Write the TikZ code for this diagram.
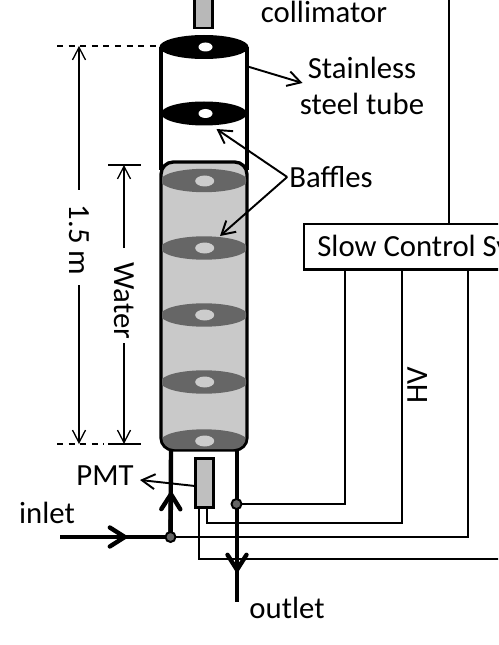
\documentclass[tikz,border=0pt]{standalone}
\usepackage{fontspec}
\setmainfont{Carlito}
\usetikzlibrary{arrows.meta, calc}

\begin{document}
\begin{tikzpicture}[
    x=0.02cm, y=-0.02cm,
    lbl/.style ={font=\fontsize{17.5}{20}\selectfont, inner sep=0pt},
    wall/.style={line width=1.9pt, black},
    wire/.style={line width=1.3pt, black},
    pipe/.style={line width=2.5pt, black},
    dim/.style ={line width=0.75pt, black, >={Straight Barb[length=2.5mm,width=2.6mm]}},
    pointer/.style={->, line width=1.1pt, >={Straight Barb[length=2.6mm,width=3mm]}},
    flow/.style={->, pipe, >={Straight Barb[length=3mm,width=3.8mm,round]}},
    joint/.style={circle, draw=black, line width=1.1pt, fill=black!60, inner sep=0pt, minimum size=5.7pt},
]
\useasboundingbox (0,0) rectangle (498,645);
\clip (0,0) rectangle (498,645);
% water volume
\draw[wall, fill=black!21, rounded corners=7pt] (161,162) rectangle (247,450);
% baffles in water
\begin{scope}
\clip[rounded corners=7pt] (162,163) rectangle (246,449);
\foreach \y in {180.5,248,315,382,441}{
  \fill[black!60] (204,\y) ellipse (43.5 and 11.7);
}
\fill[black!60] (160,442) rectangle (248,452);
\foreach \y in {181,248,315,382,441}{
  \fill[black!20] (204.7,\y) ellipse (9.5 and 5.5);
}
\end{scope}
% tube
\draw[wall] (161,47) -- (161,170);
\draw[wall] (247,47) -- (247,170);
\foreach \y/\rx in {47/44.5,113.5/43}{
  \fill[black] (204,\y) ellipse ({\rx} and 12);
  \fill[white] (205.5,\y) ellipse (7 and 4.5);
}
% collimator
\node[draw, line width=1.4pt, fill=black!28, inner sep=0pt, minimum width=0.36cm, minimum height=0.6cm] (coll) at (203.5,13) {};
% slow control box
\node[draw, line width=1.4pt, fill=white, minimum width=5cm, minimum height=0.92cm, anchor=north west, inner sep=0pt] (slow) at (303,222.5) {};
\node[lbl, anchor=west] (slowtxt) at (317,248) {Slow Control System};
\coordinate (feedtop) at (449,-3);
\draw[wire] (feedtop) -- (449,223);
% PMT
\node[draw, line width=1.8pt, fill=black!25, inner sep=0pt, minimum width=0.35cm, minimum height=0.98cm] (pmt) at (204.5,483) {};
% pipes
\coordinate (inletend) at (60,537);
\coordinate (outletend) at (237,602);
\coordinate (jin) at (170.5,537);
\coordinate (jout) at (236.5,504);
\draw[pipe] (171,450) -- (jin);
\draw[pipe] (237,450) -- (outletend);
\draw[pipe] (inletend) -- (jin);
% wires to the control box
\draw[wire] (jout) -- (345,504) -- (345,268);
\draw[wire] (207.3,508) -- (207.3,523) -- (402,523) -- (402,268);
\draw[wire] (jin) -- (468,537) -- (468,268);
\draw[wire] (199,508) -- (199,559) -- (500,559);
\draw[flow] (jin) -- (171,492);
\draw[flow] (237,530) -- (237,572);
\draw[flow] (inletend) -- (127,537);
\node[joint] (jinnode) at (jin) {};
\node[joint] (joutnode) at (jout) {};
% dimensions
\draw[dim, dash pattern=on 3.4pt off 3.2pt] (57,46) -- (156,46);
\draw[dim, dash pattern=on 3.4pt off 3.2pt] (57,444) -- (104,444);
\draw[dim] (108,165) -- (141,165);
\draw[dim] (108,444) -- (141,444);
\node[lbl, rotate=-90] (height) at (79,240) {1.5 m};
\node[lbl, rotate=-90] (water) at (124,301) {Water};
\draw[dim, ->] (79,190) -- (79,46);
\draw[dim, ->] (79,285) -- (79,444);
\draw[dim, ->] (124,248) -- (124,165);
\draw[dim, ->] (124,343) -- (124,444);
% labels
\node[lbl] (colltxt) at (324,12) {collimator};
\node[lbl] (tube1) at (362,68) {Stainless};
\node[lbl] (tube2) at (362,104) {steel tube};
\node[lbl] (baffles) at (331,177) {Baffles};
\node[lbl] (pmttxt) at (105,476) {PMT};
\node[lbl] (inlet) at (47,513) {inlet};
\node[lbl] (outlet) at (287,608) {outlet};
\node[lbl, rotate=90] (hv) at (418,385) {HV};
% pointers
\coordinate (tubept) at (246,66);
\coordinate (bafa) at (216.5,129);
\coordinate (bafb) at (220,236);
\coordinate (pmtpt) at (140,480);
\draw[pointer] (tubept) -- (302.5,83);
\draw[pointer] ([xshift=-1pt]baffles.west) -- (bafa);
\draw[pointer] ([xshift=-1pt]baffles.west) -- (bafb);
\draw[pointer] (195,486) -- (pmtpt);
\end{tikzpicture}
\end{document}
